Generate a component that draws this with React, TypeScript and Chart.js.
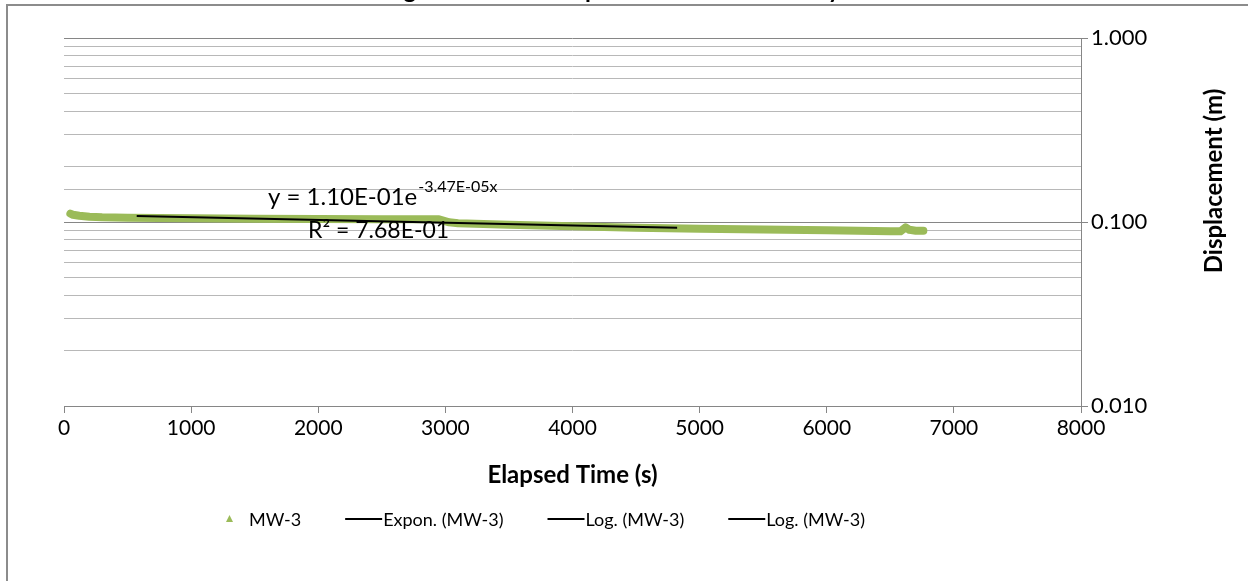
import React, { useEffect, useRef } from 'react';
import { Chart, registerables } from 'chart.js';

Chart.register(...registerables);

const FONT = 'Lato, "Open Sans", sans-serif';

const chartTitle = 'Log Normalized Displacement Time History';
const xAxisTitle = 'Elapsed Time (s)';
const yAxisTitle = 'Displacement (m)';
const seriesLabels = ['MW-3', 'Expon. (MW-3)', 'Log. (MW-3)', 'Log. (MW-3)'];
const trendEquation = 'y = 1.10E-01e';
const trendExponent = '-3.47E-05x';
const trendR2 = 'R² = 7.68E-01';

const elapsedTimeS = [50, 70, 120, 200, 300, 500, 1000, 1500, 2000, 2500, 2950, 3030, 3100, 3500, 4000, 4500, 5000, 5500, 6000, 6500, 6580, 6620, 6650, 6700, 6760];
const displacementM = [0.1110, 0.1095, 0.1081, 0.1067, 0.1060, 0.1054, 0.1047, 0.1043, 0.1039, 0.1036, 0.1034, 0.0996, 0.0984, 0.0966, 0.0948, 0.0930, 0.0918, 0.0910, 0.0901, 0.0892, 0.0890, 0.0936, 0.0907, 0.0897, 0.0897];

const exponTrendTimeS = [572, 4823];
const exponTrendDisplacementM = [0.1078, 0.0931];

const xTickValues = [0, 1000, 2000, 3000, 4000, 5000, 6000, 7000, 8000];
const yDecadeValues = [0.01, 0.1, 1];
const yDecadeLabels = ['0.010', '0.100', '1.000'];

const GREEN = '#9BBB59';
const MAJOR_GRID = '#868686';
const MINOR_GRID = '#B8B8B8';

function isDecade(v: number) {
  const l = Math.log10(v);
  return Math.abs(l - Math.round(l)) < 1e-6;
}

function decadeLabel(v: number) {
  for (let i = 0; i < yDecadeValues.length; i++) {
    if (Math.abs(yDecadeValues[i] - v) < 1e-9) return yDecadeLabels[i];
  }
  return '';
}

const overlayPlugin = {
  id: 'overlay',
  afterDraw(chart: any) {
    const ctx = chart.ctx as CanvasRenderingContext2D;
    const area = chart.chartArea;
    ctx.save();

    // outer chart border (top and left visible)
    ctx.strokeStyle = '#8C8C8C';
    ctx.lineWidth = 2;
    ctx.beginPath();
    ctx.moveTo(7, chart.height + 4);
    ctx.lineTo(7, 5);
    ctx.lineTo(chart.width + 4, 5);
    ctx.stroke();

    // chart title (mostly above the visible page)
    ctx.fillStyle = '#000';
    ctx.font = `bold 24px ${FONT}`;
    ctx.textAlign = 'left';
    ctx.textBaseline = 'alphabetic';
    const pre = ctx.measureText('Lo').width + ctx.measureText('g').width / 2;
    ctx.fillText(chartTitle, 410 - pre, -2.5);

    // trendline equation
    ctx.font = `24px ${FONT}`;
    ctx.fillText(trendEquation, 268, 205);
    const w = ctx.measureText(trendEquation).width;
    ctx.font = `16px ${FONT}`;
    ctx.fillText(trendExponent, 268 + w + 1, 192);
    ctx.font = `23px ${FONT}`;
    ctx.fillText(trendR2, 308, 238);

    // x axis title
    ctx.font = `bold 24px ${FONT}`;
    ctx.textAlign = 'center';
    ctx.textBaseline = 'middle';
    ctx.fillText(xAxisTitle, (area.left + area.right) / 2, 475);

    // y axis title
    ctx.save();
    ctx.translate(1214, 181);
    ctx.rotate(-Math.PI / 2);
    ctx.fillText(yAxisTitle, 0, 0);
    ctx.restore();

    // legend
    ctx.font = `18px ${FONT}`;
    ctx.textAlign = 'left';
    ctx.textBaseline = 'middle';
    const symW = 37;
    const gapText = 1;
    const gapItem = 44;
    const ds = chart.data.datasets;
    const widths = ds.map((d: any) => symW + gapText + ctx.measureText(d.label).width);
    const total = widths.reduce((a: number, b: number) => a + b, 0) + gapItem * (ds.length - 1);
    let x = 538 - total / 2;
    const ly = 519;
    ds.forEach((d: any, i: number) => {
      if (i === 0) {
        const cx = x + symW / 2;
        ctx.fillStyle = GREEN;
        ctx.beginPath();
        ctx.moveTo(cx, ly - 4);
        ctx.lineTo(cx + 3.5, ly + 3);
        ctx.lineTo(cx - 3.5, ly + 3);
        ctx.closePath();
        ctx.fill();
      } else {
        ctx.strokeStyle = '#000';
        ctx.lineWidth = 2;
        ctx.beginPath();
        ctx.moveTo(x, ly);
        ctx.lineTo(x + symW, ly);
        ctx.stroke();
      }
      ctx.fillStyle = '#000';
      ctx.fillText(d.label, x + symW + gapText, ly + 1);
      x += widths[i] + gapItem;
    });

    ctx.restore();
  },
};

export default function App() {
  const canvasRef = useRef<HTMLCanvasElement | null>(null);

  useEffect(() => {
    if (!canvasRef.current) return;
    const tickFont = { family: FONT, size: 21 };
    const chart = new Chart(canvasRef.current, {
      type: 'scatter',
      data: {
        datasets: [
          {
            label: seriesLabels[0],
            data: elapsedTimeS.map((t, i) => ({ x: t, y: displacementM[i] })),
            showLine: true,
            borderColor: GREEN,
            backgroundColor: GREEN,
            borderWidth: 8,
            borderCapStyle: 'round',
            borderJoinStyle: 'round',
            pointRadius: 0,
            pointStyle: 'triangle',
            order: 5,
          },
          {
            label: seriesLabels[1],
            data: exponTrendTimeS.map((t, i) => ({ x: t, y: exponTrendDisplacementM[i] })),
            showLine: true,
            borderColor: '#000',
            backgroundColor: '#000',
            borderWidth: 2,
            pointRadius: 0,
            order: 1,
          },
          {
            label: seriesLabels[2],
            data: [],
            showLine: true,
            borderColor: '#000',
            borderWidth: 2,
            pointRadius: 0,
            order: 1,
          },
          {
            label: seriesLabels[3],
            data: [],
            showLine: true,
            borderColor: '#000',
            borderWidth: 2,
            pointRadius: 0,
            order: 1,
          },
        ],
      },
      options: {
        animation: false,
        responsive: false,
        layout: { padding: { left: 64, top: 38, right: 0, bottom: 0 } },
        plugins: {
          legend: { display: false },
          title: { display: false },
          tooltip: { enabled: false },
        },
        scales: {
          x: {
            type: 'linear',
            min: 0,
            max: 8000,
            afterBuildTicks: (s: any) => {
              s.ticks = xTickValues.map((v) => ({ value: v }));
            },
            afterFit: (s: any) => {
              s.height = 175;
            },
            grid: { drawOnChartArea: false, drawTicks: true, tickLength: 7, color: MAJOR_GRID },
            border: { color: MAJOR_GRID, width: 1 },
            ticks: {
              font: tickFont,
              color: '#000',
              padding: 3,
              maxRotation: 0,
              autoSkip: false,
              callback: (v: any) => String(v),
            },
          },
          y: {
            type: 'logarithmic',
            position: 'right',
            min: 0.01,
            max: 1,
            afterFit: (s: any) => {
              s.width = 167;
            },
            grid: {
              color: (c: any) => (c.tick && isDecade(c.tick.value) ? MAJOR_GRID : MINOR_GRID),
              tickColor: (c: any) => (c.tick && isDecade(c.tick.value) ? MAJOR_GRID : 'rgba(0,0,0,0)'),
              tickLength: 7,
              lineWidth: 1,
            },
            border: { color: MAJOR_GRID, width: 1 },
            ticks: {
              font: { family: FONT, size: 22 },
              color: '#000',
              padding: 3,
              autoSkip: false,
              callback: (v: any) => (isDecade(Number(v)) ? decadeLabel(Number(v)) : ''),
            },
          },
        },
      },
      plugins: [overlayPlugin],
    } as any);
    return () => chart.destroy();
  }, []);

  return (
    <div style={{ position: 'fixed', left: 0, top: 0, width: 1248, height: 581, background: '#fff' }}>
      <canvas ref={canvasRef} width={1248} height={581} style={{ display: 'block' }} />
    </div>
  );
}
